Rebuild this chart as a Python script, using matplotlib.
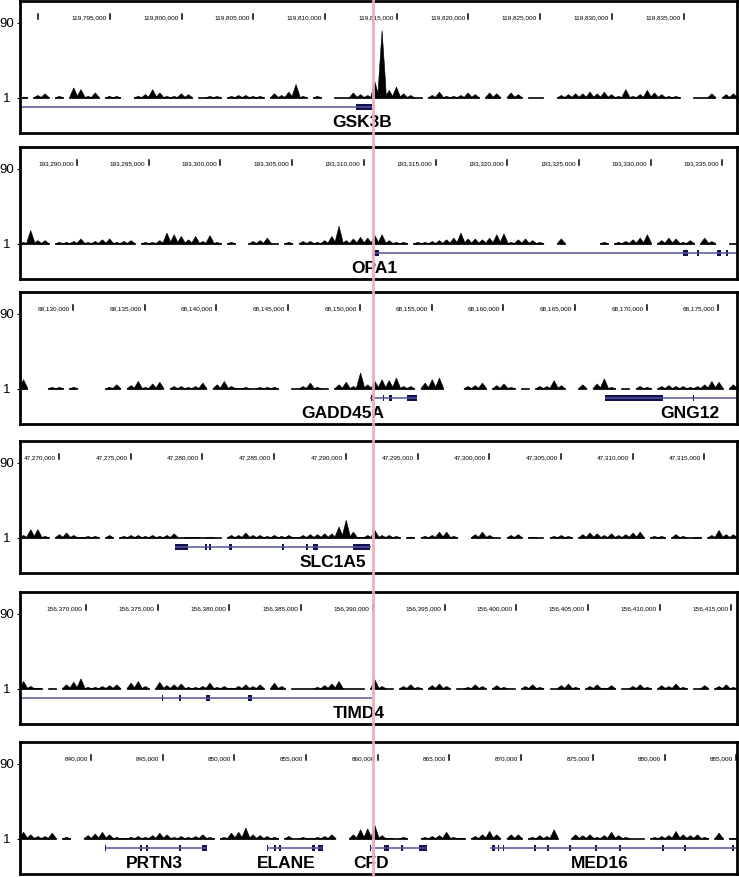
import matplotlib
matplotlib.use("Agg")
import matplotlib.pyplot as plt
import matplotlib.transforms as mtransforms
from matplotlib.lines import Line2D

plt.rcParams['font.family'] = ['Liberation Sans', 'DejaVu Sans']

# ---- data -------------------------------------------------------------
BIN_KB = 0.5          # coverage bin size (kb)
WINDOW_KB = 50.0      # every panel shows a 50 kb window
MARK_KB = 24.62       # highlighted position (kb from window start)

window_starts = [119788724, 193286025, 68126304, 47267280, 156365397, 835049]
first_ticks = [119790000, 193290000, 68130000, 47270000, 156370000, 840000]
unlabeled_ticks = [119790000]

# read coverage (0 = no reads), one value per 0.5 kb bin
cov_gsk3b = [2, 0, 4, 6, 0, 3, 0, 13, 11, 3,
             7, 0, 3, 3, 0, 0, 3, 5, 11, 7,
             3, 3, 6, 5, 0, 1, 3, 3, 0, 3,
             4, 4, 3, 3, 0, 6, 4, 8, 17, 3,
             0, 3, 0, 0, 1, 1, 7, 5, 4, 20,
             81, 10, 14, 6, 4, 1, 0, 4, 8, 3,
             3, 4, 7, 5, 0, 7, 6, 0, 7, 5,
             0, 1, 1, 0, 0, 4, 5, 6, 6, 8,
             6, 8, 5, 3, 11, 3, 5, 10, 7, 5,
             3, 3, 0, 0, 1, 1, 6, 0, 5, 6]
cov_opa1 = [3, 17, 5, 5, 0, 3, 3, 4, 7, 3,
            4, 6, 7, 3, 4, 5, 0, 3, 3, 5,
            14, 12, 10, 6, 10, 4, 11, 3, 0, 3,
            0, 0, 4, 5, 8, 1, 0, 3, 0, 4,
            4, 3, 5, 10, 22, 5, 7, 9, 8, 11,
            12, 5, 3, 3, 0, 3, 3, 4, 5, 6,
            8, 14, 7, 7, 6, 8, 12, 13, 3, 6,
            7, 5, 3, 0, 0, 7, 0, 0, 0, 0,
            0, 3, 0, 3, 4, 6, 8, 12, 0, 5,
            8, 7, 3, 5, 0, 8, 4, 0, 0, 1]
cov_gadd45a = [12, 0, 0, 0, 3, 3, 0, 3, 0, 0,
               0, 0, 3, 6, 0, 5, 10, 3, 7, 9,
               0, 4, 4, 3, 4, 8, 0, 6, 10, 4,
               2, 3, 1, 3, 3, 3, 0, 0, 1, 4,
               8, 3, 1, 0, 6, 9, 4, 20, 6, 10,
               12, 11, 14, 4, 4, 0, 8, 12, 14, 0,
               0, 0, 4, 5, 8, 0, 5, 7, 3, 0,
               1, 0, 4, 4, 11, 5, 0, 0, 6, 0,
               7, 13, 3, 0, 1, 0, 4, 3, 0, 4,
               5, 4, 4, 3, 4, 6, 10, 9, 0, 6]
cov_slc1a5 = [4, 11, 11, 3, 0, 5, 7, 4, 2, 3,
              3, 0, 4, 0, 3, 4, 4, 3, 4, 3,
              4, 6, 1, 2, 2, 1, 2, 1, 0, 4,
              4, 7, 4, 4, 3, 4, 3, 4, 2, 4,
              5, 5, 6, 6, 14, 22, 8, 2, 4, 10,
              4, 4, 3, 0, 2, 0, 3, 4, 8, 8,
              3, 0, 0, 5, 8, 4, 1, 0, 4, 5,
              0, 2, 1, 0, 3, 4, 3, 0, 5, 7,
              6, 4, 6, 4, 5, 7, 8, 0, 3, 3,
              0, 5, 3, 1, 2, 0, 4, 10, 5, 5]
cov_timd4 = [10, 4, 2, 0, 1, 0, 6, 9, 13, 3,
             3, 4, 5, 6, 0, 8, 10, 4, 0, 9,
             5, 6, 7, 3, 3, 4, 8, 3, 4, 2,
             4, 6, 4, 6, 0, 8, 4, 0, 1, 1,
             1, 3, 5, 7, 10, 1, 1, 1, 0, 12,
             4, 1, 0, 4, 6, 3, 0, 5, 7, 4,
             0, 1, 3, 6, 4, 0, 5, 3, 1, 0,
             4, 6, 3, 0, 1, 5, 7, 3, 0, 4,
             6, 2, 5, 0, 1, 4, 6, 3, 0, 5,
             4, 7, 3, 0, 1, 5, 0, 4, 6, 3]
cov_cfd = [9, 6, 4, 4, 8, 0, 3, 0, 0, 5,
           7, 9, 6, 3, 2, 3, 4, 3, 5, 8,
           6, 3, 4, 3, 4, 6, 3, 0, 3, 8,
           9, 14, 6, 5, 4, 3, 0, 4, 1, 3,
           2, 3, 4, 6, 0, 0, 6, 12, 13, 17,
           5, 2, 1, 3, 0, 0, 3, 4, 5, 9,
           3, 2, 0, 4, 6, 10, 6, 0, 6, 6,
           0, 3, 5, 4, 12, 0, 0, 6, 5, 6,
           3, 5, 9, 5, 3, 1, 1, 0, 3, 4,
           5, 10, 6, 5, 6, 3, 0, 8, 0, 2]

# gene models: (name, line start kb, line end kb, exons [(start, end)], label x kb)
genes_p1 = [("GSK3B", 0.0, 24.55, [(23.4, 24.55)], 23.85)]
genes_p2 = [("OPA1", 24.7, 50.0,
             [(24.7, 25.0), (46.2, 46.6), (47.2, 47.35), (48.6, 48.9), (49.2, 49.35)], 24.7)]
genes_p3 = [("GADD45A", 24.4, 27.7,
             [(24.5, 24.7), (25.3, 25.4), (25.7, 25.95), (27.0, 27.7)], 22.5),
            ("GNG12", 40.8, 50.0, [(40.8, 44.85), (46.9, 47.0)], 46.7)]
genes_p4 = [("SLC1A5", 10.8, 24.5,
             [(10.8, 11.4), (11.4, 11.7), (12.9, 13.05), (13.2, 13.3), (14.6, 14.8),
              (18.3, 18.4), (19.95, 20.05), (20.4, 20.8), (23.2, 24.4)], 21.8)]
genes_p5 = [("TIMD4", 0.0, 24.6,
             [(9.9, 10.0), (11.1, 11.2), (13.0, 13.25), (15.9, 16.2)], 23.6)]
genes_p6 = [("PRTN3", 5.9, 13.05,
             [(5.9, 6.0), (8.4, 8.5), (8.8, 8.95), (11.1, 11.2), (12.7, 13.05)], 9.4),
            ("ELANE", 17.2, 21.1,
             [(17.2, 17.3), (17.7, 17.85), (18.05, 18.2), (20.35, 20.55), (20.8, 21.1)], 18.55),
            ("CFD", 24.4, 28.4,
             [(24.4, 24.5), (25.4, 25.7), (26.55, 26.7), (27.8, 28.4)], 24.5),
            ("MED16", 32.8, 50.0,
             [(32.9, 33.1), (33.3, 33.4), (33.65, 33.75), (35.85, 36.0), (36.75, 36.9),
              (38.3, 38.4), (40.1, 40.25), (41.8, 41.9), (44.8, 44.9), (46.3, 46.45),
              (49.65, 49.8)], 40.45)]

coverage = [cov_gsk3b, cov_opa1, cov_gadd45a, cov_slc1a5, cov_timd4, cov_cfd]
genes = [genes_p1, genes_p2, genes_p3, genes_p4, genes_p5, genes_p6]

# ---- layout -----------------------------------------------------------
W, H = 739, 878
panel_tops = [2, 148, 293, 442, 593, 743]
PANEL_H = 132
GENE_Y = -10.7
LABEL_Y = -27.5
INTRON = '#55559a'
EXON = '#10104e'

# peaked profile used for each coverage bin (fraction of bin, fraction of height)
mound_u = [-0.1, 0.05, 0.2, 0.35, 0.5, 0.65, 0.8, 0.95, 1.1]
mound_f = [0.0, 0.28, 0.52, 0.76, 1.0, 0.76, 0.52, 0.28, 0.0]

fig = plt.figure(figsize=(W / 100, H / 100), dpi=100)

axes = []
for p in range(6):
    top = panel_tops[p]
    ax = fig.add_axes([20 / W, (H - top - PANEL_H) / H, 717 / W, PANEL_H / H])
    axes.append(ax)
    ax.set_xlim(0, WINDOW_KB)
    ax.set_ylim(-41.5, 115)
    for s in ax.spines.values():
        s.set_linewidth(2)
    ax.set_xticks([])
    ax.set_yticks([0, 89])
    ax.set_yticklabels([])
    ax.tick_params(axis='y', length=2.5, width=0.8)
    ytr = mtransforms.blended_transform_factory(ax.transAxes, ax.transData)
    ax.text(-0.019, 89, '90', transform=ytr, ha='center', va='center', fontsize=9.5)
    ax.text(-0.019, 0, '1', transform=ytr, ha='center', va='center', fontsize=9.5)

    # coordinate ruler
    xtr = ax.get_xaxis_transform()
    start = window_starts[p]
    t = first_ticks[p]
    while (t - start) / 1000 < WINDOW_KB:
        xk = (t - start) / 1000
        ax.plot([xk, xk], [0.862, 0.905], color='k', lw=1.1, transform=xtr)
        if t not in unlabeled_ticks:
            ax.text(xk - 0.22, 0.883, f"{t:,}", transform=xtr, ha='right', va='center',
                    fontsize=4.6)
        t += 5000

    # coverage track: one small peak per bin, joined by the baseline
    vals = coverage[p]
    n = len(vals)
    i = 0
    while i < n:
        if vals[i] == 0:
            i += 1
            continue
        j = i
        while j + 1 < n and vals[j + 1] > 0:
            j += 1
        ax.plot([i * BIN_KB, (j + 1) * BIN_KB], [0, 0], color='k', lw=1.2)
        i = j + 1
    for k, v in enumerate(vals):
        if v <= 1:
            continue
        h = v - 1
        xs = [(k + u) * BIN_KB for u in mound_u]
        ys = [f * h for f in mound_f]
        ax.fill(xs, ys, color='k', lw=0.4, edgecolor='k')

    # gene models
    for name, g0, g1, exons, lx in genes[p]:
        ax.plot([g0, g1], [GENE_Y, GENE_Y], color=INTRON, lw=1.1, solid_capstyle='butt')
        ax.broken_barh([(a, b - a) for a, b in exons], (GENE_Y - 3.6, 7.2),
                       facecolors=EXON, edgecolors='none')
        ax.text(lx, LABEL_Y, name, ha='center', va='center', fontsize=12.5,
                fontweight='bold')

# highlighted position across all panels
mtr = mtransforms.blended_transform_factory(axes[0].transData, fig.transFigure)
fig.add_artist(Line2D([MARK_KB, MARK_KB], [0, 1], transform=mtr, color='#f5aab5',
                      lw=2.2, alpha=0.9, zorder=10))

fig.savefig('out.png', dpi=100)
